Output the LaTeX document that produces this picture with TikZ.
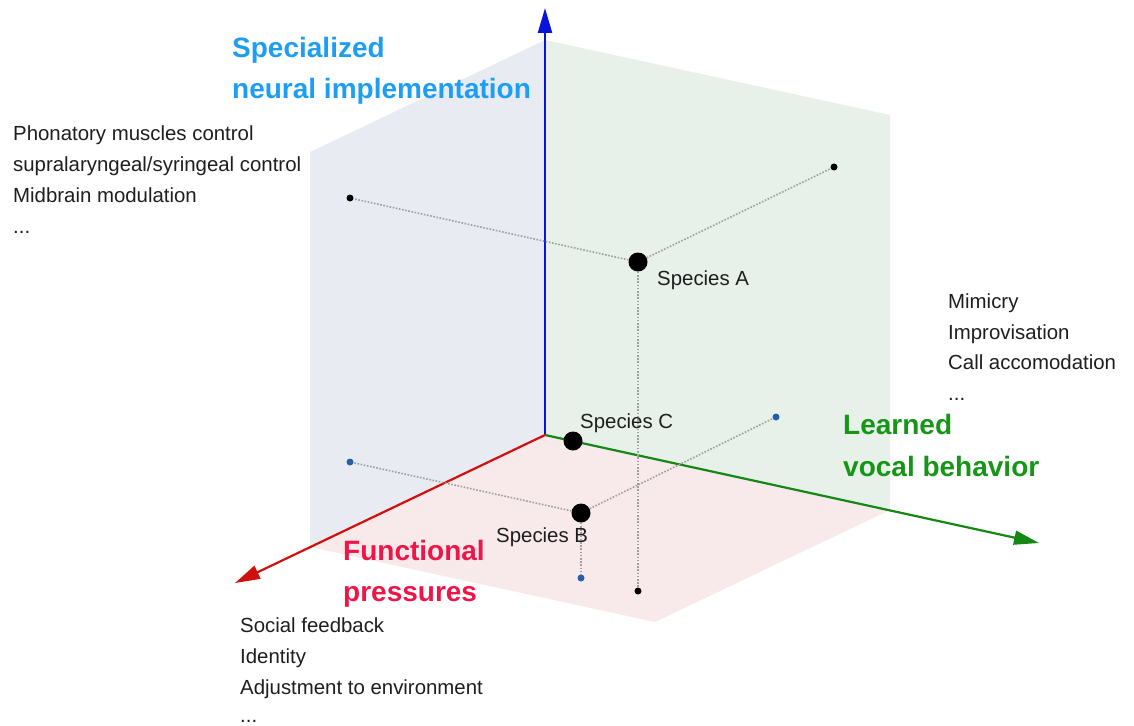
\documentclass[tikz,border=0pt]{standalone}
\usepackage{fontspec}
\setmainfont{Liberation Sans}
\usetikzlibrary{arrows.meta}
\definecolor{planeblue}{RGB}{232,236,242}
\definecolor{planegreen}{RGB}{232,241,233}
\definecolor{planepink}{RGB}{248,234,234}
\definecolor{axisblue}{RGB}{10,20,215}
\definecolor{axisred}{RGB}{210,15,15}
\definecolor{axisgreen}{RGB}{20,135,20}
\definecolor{labblue}{RGB}{30,158,242}
\definecolor{labgreen}{RGB}{22,150,22}
\definecolor{labred}{RGB}{238,22,72}
\definecolor{txt}{RGB}{30,30,30}
\definecolor{projblue}{RGB}{40,95,170}
\tikzset{
  axisline/.style={line width=2.2pt,-{Triangle[length=25pt,width=14pt]}},
  dotline/.style={draw=gray!75,line width=1.6pt,dash pattern=on 1.6pt off 1.6pt},
  bigdot/.style={circle,fill=black,inner sep=0pt,minimum size=19pt},
  smalldot/.style={circle,fill=black,inner sep=0pt,minimum size=7pt},
  bluedot/.style={circle,fill=projblue,inner sep=0pt,minimum size=7pt},
  plain/.style={anchor=base west,inner sep=0pt,text=txt,font=\fontsize{20.4}{24}\selectfont},
  axislab/.style={anchor=base west,inner sep=0pt,font=\fontsize{28}{33}\selectfont\bfseries},
}
\begin{document}
\begin{tikzpicture}[x=1pt,y=-1pt]
\useasboundingbox (0,0) rectangle (1134,725);
% planes
\fill[planeblue] (545,435) -- (310,547) -- (310,152) -- (545,40) -- cycle;
\fill[planegreen] (545,435) -- (890,510) -- (890,115) -- (545,40) -- cycle;
\fill[planepink] (545,435) -- (310,547) -- (655,622) -- (890,510) -- cycle;
% axes
\coordinate (O) at (545,435);
\coordinate (Btip) at (545,8);
\coordinate (Rtip) at (235,583);
\coordinate (Gtip) at (1039,543);
\draw[axisline,axisblue] (O) -- (Btip);
\draw[axisline,axisred] (O) -- (Rtip);
\draw[axisline,axisgreen] (O) -- (Gtip);
% points
\node[bigdot] (A) at (638,262) {};
\node[smalldot] (Al) at (350,198) {};
\node[smalldot] (Ar) at (834,167) {};
\node[smalldot] (Ab) at (638,591) {};
\node[bigdot] (B) at (581,513) {};
\node[bluedot] (Bl) at (350,462) {};
\node[bluedot] (Br) at (776,417) {};
\node[bluedot] (Bb) at (581,578) {};
\node[bigdot] (C) at (573,441) {};
\draw[dotline] (A) -- (Al);
\draw[dotline] (A) -- (Ar);
\draw[dotline] (A) -- (Ab);
\draw[dotline] (B) -- (Bl);
\draw[dotline] (B) -- (Br);
\draw[dotline] (B) -- (Bb);
% species labels
\node[plain] (la) at (657,285) {Species A};
\node[plain] (lb) at (496,542) {Species B};
\node[plain] (lc) at (580,428) {Species C};
% axis labels
\node[axislab,text=labblue] (n1) at (232,57) {Specialized};
\node[axislab,text=labblue] (n2) at (232,98) {neural implementation};
\node[axislab,text=labgreen] (g1) at (843,434) {Learned};
\node[axislab,text=labgreen] (g2) at (843,476) {vocal behavior};
\node[axislab,text=labred] (r1) at (343,560) {Functional};
\node[axislab,text=labred] (r2) at (343,601) {pressures};
% lists
\node[plain] (t1) at (13,140) {Phonatory muscles control};
\node[plain] (t2) at (13,171) {supralaryngeal/syringeal control};
\node[plain] (t3) at (13,202) {Midbrain modulation};
\node[plain] (t4) at (13,233) {...};
\node[plain] (m1) at (948,308) {Mimicry};
\node[plain] (m2) at (948,339) {Improvisation};
\node[plain] (m3) at (948,369) {Call accomodation};
\node[plain] (m4) at (948,400) {...};
\node[plain] (s1) at (240,632) {Social feedback};
\node[plain] (s2) at (240,663) {Identity};
\node[plain] (s3) at (240,694) {Adjustment to environment};
\node[plain] (s4) at (240,722) {...};
\end{tikzpicture}
\end{document}
